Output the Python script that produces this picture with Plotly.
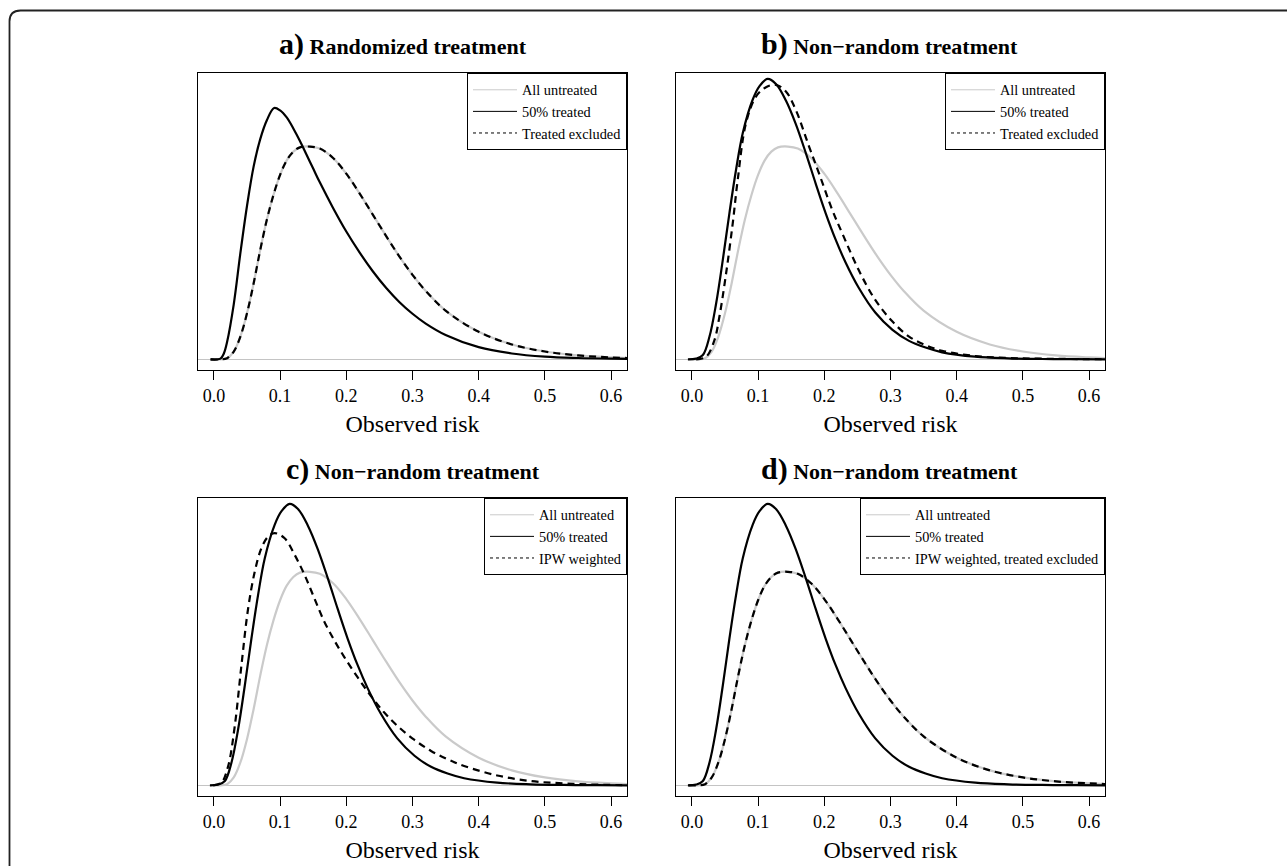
import plotly.graph_objects as go

# ---------------- data (risk, relative density) ----------------
# "All untreated" (same curve in every panel)
untreated_x = [-0.005, 0.01, 0.02, 0.03, 0.04, 0.05, 0.06, 0.07, 0.08, 0.09, 0.10, 0.11, 0.12,
               0.13, 0.145, 0.16, 0.18, 0.20, 0.22, 0.24, 0.26, 0.28, 0.30, 0.32, 0.35, 0.40,
               0.45, 0.50, 0.55, 0.60, 0.65]
untreated_y = [0.0, 0.0, 0.03, 0.20, 0.58, 1.17, 1.93, 2.78, 3.55, 4.18, 4.69, 5.06, 5.28,
               5.39, 5.41, 5.36, 5.12, 4.72, 4.22, 3.68, 3.14, 2.62, 2.15, 1.74, 1.24, 0.70,
               0.38, 0.20, 0.10, 0.05, 0.02]

# a) randomized: "50% treated"
treated_a_x = [-0.005, 0.01, 0.015, 0.02, 0.03, 0.04, 0.05, 0.06, 0.07, 0.08, 0.091, 0.10, 0.11,
               0.12, 0.13, 0.14, 0.15, 0.16, 0.18, 0.20, 0.22, 0.24, 0.26, 0.28, 0.30, 0.32,
               0.35, 0.40, 0.45, 0.50, 0.55, 0.60, 0.65]
treated_a_y = [0.0, 0.02, 0.15, 0.45, 1.40, 2.70, 3.90, 4.90, 5.60, 6.08, 6.39, 6.33, 6.15,
               5.87, 5.55, 5.20, 4.85, 4.50, 3.85, 3.25, 2.72, 2.24, 1.82, 1.46, 1.16, 0.91,
               0.62, 0.31, 0.15, 0.07, 0.035, 0.017, 0.008]

# b), c), d) non-random: "50% treated"
treated_nr_x = [-0.006, 0.0065, 0.0166, 0.0266, 0.0366, 0.0467, 0.0567, 0.0667, 0.0768, 0.0918,
                0.1019, 0.1144, 0.127, 0.142, 0.157, 0.172, 0.187, 0.202, 0.217, 0.232, 0.252,
                0.277, 0.303, 0.328, 0.353, 0.378, 0.428, 0.478, 0.529, 0.579, 0.65]
treated_nr_y = [0.0, 0.02, 0.11, 0.58, 1.42, 2.53, 3.72, 4.82, 5.75, 6.60,
                6.94, 7.13, 7.00, 6.58, 5.98, 5.25, 4.47, 3.72, 3.05, 2.47, 1.82,
                1.19, 0.75, 0.47, 0.30, 0.18, 0.068, 0.026, 0.01, 0.004, 0.0]

# b) "Treated excluded"
excluded_b_x = [0.0065, 0.0216, 0.0341, 0.0416, 0.0517, 0.0617, 0.0692, 0.0818, 0.0968, 0.1119,
                0.127, 0.142, 0.157, 0.177, 0.192, 0.212, 0.227, 0.252, 0.277, 0.303, 0.328,
                0.353, 0.378, 0.428, 0.478, 0.528, 0.65]
excluded_b_y = [0.0, 0.07, 0.49, 1.09, 2.19, 3.46, 4.56, 6.01, 6.68, 6.92,
                6.98, 6.81, 6.34, 5.41, 4.73, 3.80, 3.21, 2.27, 1.51, 0.96, 0.58,
                0.36, 0.22, 0.085, 0.034, 0.017, 0.0]

# c) "IPW weighted"
ipw_c_x = [-0.001, 0.0115, 0.0216, 0.0316, 0.0416, 0.0517, 0.0617, 0.0718, 0.0818, 0.0918, 0.1069,
           0.122, 0.137, 0.152, 0.167, 0.182, 0.197, 0.217, 0.237, 0.257, 0.277, 0.303, 0.328,
           0.353, 0.378, 0.428, 0.478, 0.528, 0.579, 0.65]
ipw_c_y = [0.0, 0.07, 0.49, 1.51, 3.04, 4.48, 5.41, 6.01, 6.30, 6.39, 6.26,
           5.84, 5.33, 4.73, 4.14, 3.67, 3.25, 2.74, 2.27, 1.85, 1.51, 1.15, 0.87,
           0.66, 0.49, 0.25, 0.11, 0.05, 0.017, 0.0]

# d) "IPW weighted, treated excluded" (falls on the untreated curve)
ipw_excl_d_x = untreated_x
ipw_excl_d_y = untreated_y

x_ticks = [0.0, 0.1, 0.2, 0.3, 0.4, 0.5, 0.6]
x_tick_labels = ["0.0", "0.1", "0.2", "0.3", "0.4", "0.5", "0.6"]

panel_titles = [("a)", "Randomized treatment"), ("b)", "Non\u2212random treatment"),
                ("c)", "Non\u2212random treatment"), ("d)", "Non\u2212random treatment")]
legend_names = [["All untreated", "50% treated", "Treated excluded"],
                ["All untreated", "50% treated", "Treated excluded"],
                ["All untreated", "50% treated", "IPW weighted"],
                ["All untreated", "50% treated", "IPW weighted, treated excluded"]]
x_title = "Observed risk"

# ---------------- layout geometry (pixels) ----------------
W, H = 1287, 866
boxes = [(198, 627, 73, 370), (676, 1105, 73, 370),
         (198, 627, 498, 796), (676, 1105, 498, 796)]
title_cx = [403, 889, 413, 889]

GRAY = "#cacaca"
FONT = "Liberation Serif, Times New Roman, serif"

series = [
    ((untreated_x, untreated_y), (treated_a_x, treated_a_y), (untreated_x, untreated_y)),
    ((untreated_x, untreated_y), (treated_nr_x, treated_nr_y), (excluded_b_x, excluded_b_y)),
    ((untreated_x, untreated_y), (treated_nr_x, treated_nr_y), (ipw_c_x, ipw_c_y)),
    ((untreated_x, untreated_y), (treated_nr_x, treated_nr_y), (ipw_excl_d_x, ipw_excl_d_y)),
]

fig = go.Figure()
styles = [dict(color=GRAY, width=2.2, dash="solid"),
          dict(color="black", width=2.2, dash="solid"),
          dict(color="black", width=2.2, dash="7px,5px")]
leg_styles = [dict(color=GRAY, width=1, dash="solid"),
              dict(color="black", width=1, dash="solid"),
              dict(color="black", width=1, dash="3px,3px")]

layout = {}
for i, (sers, box) in enumerate(zip(series, boxes)):
    n = "" if i == 0 else str(i + 1)
    xa, ya = "x" + n, "y" + n
    leg = "legend" + n
    for k, (xs, ys) in enumerate(sers):
        fig.add_trace(go.Scatter(x=xs, y=ys, mode="lines", xaxis=xa, yaxis=ya,
                                 line=dict(shape="spline", smoothing=1.0, **styles[k]),
                                 showlegend=False, hoverinfo="skip"))
    for k in range(3):
        fig.add_trace(go.Scatter(x=[None], y=[None], mode="lines", xaxis=xa, yaxis=ya,
                                 name=legend_names[i][k], line=leg_styles[k],
                                 legend=leg, showlegend=True))
    x0, x1, y0, y1 = box
    layout["xaxis" + n] = dict(domain=[x0 / W, x1 / W], anchor=ya, range=[-0.024, 0.624],
                               tickvals=x_ticks, ticktext=x_tick_labels, ticks="outside",
                               ticklen=9, tickwidth=1, tickcolor="black", showgrid=False,
                               zeroline=False, showline=True, linecolor="black", linewidth=1,
                               mirror=True, tickfont=dict(family=FONT, size=18, color="black"),
                               title=dict(text=x_title, standoff=10,
                                          font=dict(family=FONT, size=24, color="black")))
    layout["yaxis" + n] = dict(domain=[1 - y1 / H, 1 - y0 / H], anchor=xa, range=[-0.27, 7.28],
                               showticklabels=False, ticks="", showgrid=False,
                               zeroline=True, zerolinecolor="#c4c4c4", zerolinewidth=1,
                               showline=True, linecolor="black", linewidth=1, mirror=True)
    layout[leg] = dict(x=x1 / W, xanchor="right", y=1 - y0 / H, yanchor="top",
                       bordercolor="black", borderwidth=1, bgcolor="white",
                       font=dict(family=FONT, size=14.3, color="black"),
                       itemwidth=44, tracegroupgap=0)

annotations = []
for i, ((lab, txt), cx, box) in enumerate(zip(panel_titles, title_cx, boxes)):
    annotations.append(dict(
        x=cx / W, y=1 - (box[2] - 29) / H, xref="paper", yref="paper",
        xanchor="center", yanchor="middle", showarrow=False,
        text="<b><span style='font-size:30px'>" + lab + "</span> " + txt + "</b>",
        font=dict(family=FONT, size=22, color="black")))

# outer frame with rounded top-left corner
fx, fy, r = 9.5, 10.5, 11
frame = (f"M {fx / W},{1 - 900 / H} L {fx / W},{1 - (fy + r) / H} "
         f"Q {fx / W},{1 - fy / H} {(fx + r) / W},{1 - fy / H} L {1300 / W},{1 - fy / H}")
shapes = [dict(type="path", path=frame, xref="paper", yref="paper",
               line=dict(color="#222222", width=1.8))]

fig.update_layout(width=W, height=H, margin=dict(l=0, r=0, t=0, b=0),
                  paper_bgcolor="white", plot_bgcolor="white",
                  annotations=annotations, shapes=shapes, **layout)
fig.write_html("out.html")
